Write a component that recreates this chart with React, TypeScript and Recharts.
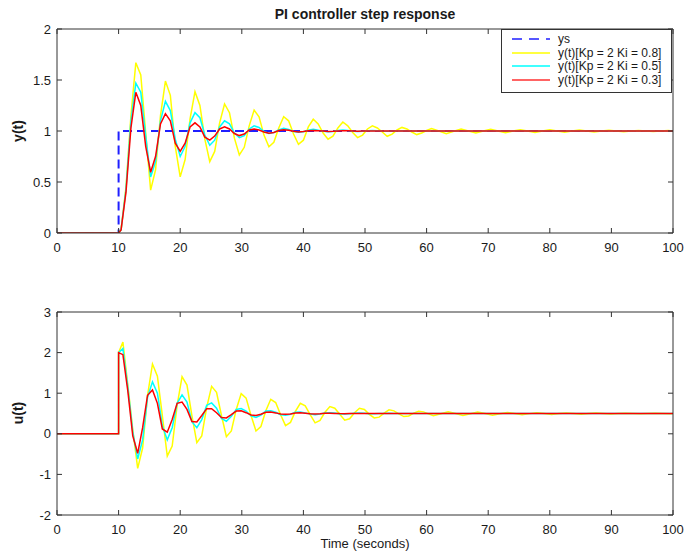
import { LineChart, Line, XAxis, YAxis } from "recharts";

// time grid for y(t) (s)
const tY = [
  0, 10, 10.4, 11.2, 12.0, 12.8, 13.6, 14.4, 15.2, 16.0,
  16.8, 17.6, 18.4, 19.2, 20.0, 20.8, 21.6, 22.4, 23.2, 24.0,
  24.8, 25.6, 26.4, 27.2, 28.0, 28.8, 29.6, 30.4, 31.2, 32.0,
  32.8, 33.6, 34.4, 35.2, 36.0, 36.8, 37.6, 38.4, 39.2, 40.0,
  40.8, 41.6, 42.4, 43.2, 44.0, 44.8, 45.6, 46.4, 47.2, 48.0,
  48.8, 49.6, 50.4, 51.2, 52.0, 52.8, 53.6, 54.4, 55.2, 56.0,
  56.8, 57.6, 58.4, 59.2, 60.0, 60.8, 62.0, 63.2, 64.4, 65.6,
  66.8, 68.0, 69.2, 70.4, 71.6, 72.8, 74.0, 75.2, 76.4, 77.6,
  78.8, 80.0, 81.2, 82.4, 83.6, 84.8, 86.0, 87.2, 88.4, 89.6,
  90.8, 92.0, 93.2, 94.4, 95.6, 96.8, 98.0, 99.2, 100,
];

// y(t), Kp = 2, Ki = 0.8
const yKi08 = [
  0, 0, 0.03, 0.45, 1.15, 1.67, 1.55, 0.98, 0.42, 0.62,
  1.15, 1.49, 1.35, 0.85, 0.55, 0.72, 1.12, 1.385, 1.25, 0.92,
  0.70, 0.80, 1.08, 1.265, 1.18, 0.93, 0.765, 0.84, 1.05, 1.205,
  1.14, 0.96, 0.845, 0.89, 1.03, 1.14, 1.10, 0.97, 0.87, 0.91,
  1.04, 1.115, 1.07, 0.98, 0.92, 0.95, 1.03, 1.088, 1.05, 0.985,
  0.935, 0.96, 1.02, 1.05, 1.03, 0.99, 0.948, 0.97, 1.01, 1.035,
  1.02, 0.99, 0.965, 0.98, 1.005, 1.023, 1.0, 0.974, 0.998, 1.02,
  1.0, 0.98, 0.999, 1.016, 1.0, 0.983, 1.0, 1.013, 1.0, 0.986,
  1.0, 1.011, 1.0, 0.989, 1.0, 1.009, 1.0, 0.991, 1.0, 1.007,
  1.0, 0.993, 1.0, 1.005, 1.0, 0.995, 1.0, 1.004, 1.0,
];

// y(t), Kp = 2, Ki = 0.5
const yKi05 = [
  0, 0, 0.03, 0.43, 1.10, 1.47, 1.38, 0.95, 0.55, 0.70,
  1.10, 1.29, 1.20, 0.92, 0.75, 0.85, 1.08, 1.18, 1.13, 0.96,
  0.86, 0.91, 1.04, 1.10, 1.07, 0.98, 0.935, 0.955, 1.02, 1.05,
  1.035, 0.995, 0.975, 0.985, 1.01, 1.026, 1.015, 0.995, 0.987, 0.993,
  1.008, 1.016, 1.008, 0.997, 0.993, 0.996, 1.005, 1.01, 1.005, 0.998,
  0.996, 0.998, 1.003, 1.005, 1.002, 0.999, 0.998, 0.999, 1.001, 1.002,
  1.001, 1, 1, 1, 1, 1, 1, 1, 1, 1,
  1, 1, 1, 1, 1, 1, 1, 1, 1, 1,
  1, 1, 1, 1, 1, 1, 1, 1, 1, 1,
  1, 1, 1, 1, 1, 1, 1, 1, 1,
];

// y(t), Kp = 2, Ki = 0.3
const yKi03 = [
  0, 0, 0.03, 0.40, 1.03, 1.38, 1.25, 0.85, 0.595, 0.75,
  1.07, 1.17, 1.10, 0.88, 0.80, 0.88, 1.04, 1.08, 1.04, 0.94,
  0.91, 0.95, 1.02, 1.04, 1.02, 0.975, 0.955, 0.97, 1.01, 1.02,
  1.01, 0.99, 0.978, 0.985, 1.005, 1.012, 1.008, 0.997, 0.99, 0.994,
  1.003, 1.006, 1.003, 0.999, 0.996, 0.997, 1.001, 1.003, 1.002, 1.0,
  0.998, 0.999, 1.001, 1.001, 1, 1, 1, 1, 1, 1,
  1, 1, 1, 1, 1, 1, 1, 1, 1, 1,
  1, 1, 1, 1, 1, 1, 1, 1, 1, 1,
  1, 1, 1, 1, 1, 1, 1, 1, 1, 1,
  1, 1, 1, 1, 1, 1, 1, 1, 1,
];

// setpoint ys
const tStep = [0, 10, 10, 100];
const ysVals = [0, 0, 1, 1];

// time grid for u(t) (s)
const tU = [
  0, 10, 10, 10.7, 11.5, 12.3, 13.1, 13.9, 14.7, 15.5,
  16.3, 17.1, 17.9, 18.7, 19.5, 20.3, 21.1, 21.9, 22.7, 23.5,
  24.3, 25.1, 25.9, 26.7, 27.5, 28.3, 29.1, 29.9, 30.7, 31.5,
  32.3, 33.1, 33.9, 34.7, 35.5, 36.3, 37.1, 37.9, 38.7, 39.5,
  40.3, 41.1, 41.9, 42.7, 43.5, 44.3, 45.1, 45.9, 46.7, 47.5,
  48.3, 49.1, 49.9, 50.7, 51.5, 52.3, 53.1, 53.9, 54.7, 55.5,
  56.3, 57.1, 57.9, 58.7, 59.5, 60.3, 61.1, 62.3, 63.5, 64.7,
  65.9, 67.1, 68.3, 69.5, 70.7, 71.9, 73.1, 74.3, 75.5, 76.7,
  77.9, 79.1, 80.3, 81.5, 82.7, 83.9, 85.1, 86.3, 87.5, 88.7,
  89.9, 91.1, 92.3, 93.5, 94.7, 95.9, 97.1, 98.3, 99.5, 100,
];

const uKi08 = [
  0, 0, 2.0, 2.26, 1.2, 0.1, -0.85, -0.35, 0.95, 1.72,
  1.42, 0.45, -0.55, -0.3, 0.7, 1.41, 1.2, 0.45, -0.22, -0.05,
  0.65, 1.17, 1.02, 0.45, -0.07, 0.07, 0.6, 0.99, 0.88, 0.45,
  0.07, 0.18, 0.57, 0.85, 0.77, 0.47, 0.20, 0.28, 0.55, 0.75,
  0.69, 0.47, 0.27, 0.33, 0.53, 0.67, 0.63, 0.48, 0.335, 0.37,
  0.52, 0.63, 0.60, 0.48, 0.39, 0.41, 0.51, 0.59, 0.565, 0.49,
  0.425, 0.44, 0.51, 0.555, 0.54, 0.49, 0.445, 0.495, 0.545, 0.50,
  0.45, 0.495, 0.535, 0.50, 0.46, 0.495, 0.525, 0.50, 0.468, 0.497,
  0.52, 0.50, 0.475, 0.498, 0.515, 0.50, 0.483, 0.499, 0.51, 0.50,
  0.49, 0.5, 0.507, 0.5, 0.493, 0.5, 0.505, 0.5, 0.496, 0.5,
];

const uKi05 = [
  0, 0, 2.0, 2.1, 1.15, 0.05, -0.62, -0.15, 0.9, 1.28,
  1.0, 0.2, -0.15, 0.15, 0.75, 0.96, 0.78, 0.3, 0.15, 0.35,
  0.7, 0.76, 0.63, 0.38, 0.31, 0.43, 0.6, 0.62, 0.56, 0.44,
  0.405, 0.46, 0.56, 0.57, 0.53, 0.47, 0.455, 0.48, 0.53, 0.535,
  0.515, 0.485, 0.472, 0.49, 0.515, 0.52, 0.51, 0.49, 0.486, 0.495,
  0.507, 0.51, 0.505, 0.496, 0.493, 0.498, 0.503, 0.505, 0.502, 0.498,
  0.497, 0.5, 0.5, 0.5, 0.5, 0.5, 0.5, 0.5, 0.5, 0.5,
  0.5, 0.5, 0.5, 0.5, 0.5, 0.5, 0.5, 0.5, 0.5, 0.5,
  0.5, 0.5, 0.5, 0.5, 0.5, 0.5, 0.5, 0.5, 0.5, 0.5,
  0.5, 0.5, 0.5, 0.5, 0.5, 0.5, 0.5, 0.5, 0.5, 0.5,
];

const uKi03 = [
  0, 0, 2.0, 1.95, 1.05, -0.05, -0.48, 0.15, 0.95, 1.08,
  0.75, 0.12, 0.04, 0.35, 0.75, 0.78, 0.6, 0.3, 0.29, 0.45,
  0.62, 0.62, 0.52, 0.4, 0.39, 0.47, 0.56, 0.565, 0.52, 0.465,
  0.452, 0.48, 0.53, 0.535, 0.515, 0.488, 0.48, 0.49, 0.512, 0.518,
  0.508, 0.494, 0.49, 0.496, 0.505, 0.507, 0.503, 0.497, 0.496, 0.499,
  0.502, 0.503, 0.501, 0.5, 0.5, 0.5, 0.5, 0.5, 0.5, 0.5,
  0.5, 0.5, 0.5, 0.5, 0.5, 0.5, 0.5, 0.5, 0.5, 0.5,
  0.5, 0.5, 0.5, 0.5, 0.5, 0.5, 0.5, 0.5, 0.5, 0.5,
  0.5, 0.5, 0.5, 0.5, 0.5, 0.5, 0.5, 0.5, 0.5, 0.5,
  0.5, 0.5, 0.5, 0.5, 0.5, 0.5, 0.5, 0.5, 0.5, 0.5,
];

const xTicks = [0, 10, 20, 30, 40, 50, 60, 70, 80, 90, 100];
const yTicksTop = [0, 0.5, 1, 1.5, 2];
const yTicksBottom = [-2, -1, 0, 1, 2, 3];

const legendItems = [
  { label: "ys", color: "#1f1fff", dash: "10 7" },
  { label: "y(t)[Kp = 2 Ki = 0.8]", color: "#ffff00" },
  { label: "y(t)[Kp = 2 Ki = 0.5]", color: "#00ffff" },
  { label: "y(t)[Kp = 2 Ki = 0.3]", color: "#ff3030" },
];

const FONT = '"Liberation Sans", Arial, Helvetica, sans-serif';
const AXIS = "#333333";
const TEXT = "#1a1a1a";
const YELLOW = "#ffff00";
const CYAN = "#00ffff";
const RED = "#ff0000";
const TICK_LEN = 5;

const yRows = tY.map((t, i) => ({ t, y08: yKi08[i], y05: yKi05[i], y03: yKi03[i] }));
const uRows = tU.map((t, i) => ({ t, u08: uKi08[i], u05: uKi05[i], u03: uKi03[i] }));
const stepRows = tStep.map((t, i) => ({ t, ys: ysVals[i] }));

// tick renderers draw the inward tick mark themselves (tickSize is 0)
function BottomTick({ x, y, payload }: any) {
  const axisY = y - 9;
  return (
    <g>
      <line x1={x} y1={axisY} x2={x} y2={axisY - TICK_LEN} stroke={AXIS} />
      <text x={x} y={y} dy="0.75em" textAnchor="middle" fontSize={13} fill={TEXT} fontFamily={FONT}>
        {payload.value}
      </text>
    </g>
  );
}

function LeftTick({ x, y, payload }: any) {
  const axisX = x + 6;
  return (
    <g>
      <line x1={axisX} y1={y} x2={axisX + TICK_LEN} y2={y} stroke={AXIS} />
      <text x={x} y={y} dy="0.36em" textAnchor="end" fontSize={13} fill={TEXT} fontFamily={FONT}>
        {payload.value}
      </text>
    </g>
  );
}

function TopTick({ x, y }: any) {
  return <line x1={x} y1={y} x2={x} y2={y + TICK_LEN} stroke={AXIS} />;
}

function RightTick({ x, y }: any) {
  return <line x1={x} y1={y} x2={x - TICK_LEN} y2={y} stroke={AXIS} />;
}

// Matlab-like box: inward ticks on all four sides, labels on bottom/left only
function Frame({ domain, ticks }: { domain: number[]; ticks: number[] }) {
  return [
    <XAxis
      key="xb" dataKey="t" type="number" domain={[0, 100]} ticks={xTicks} interval={0}
      allowDataOverflow height={22} stroke={AXIS} tickLine={false} tickSize={0} tickMargin={9}
      tick={<BottomTick />}
    />,
    <XAxis
      key="xt" xAxisId="top" orientation="top" dataKey="t" type="number" domain={[0, 100]}
      ticks={xTicks} interval={0} allowDataOverflow height={1} stroke={AXIS}
      tickLine={false} tickSize={0} tickMargin={0} tick={<TopTick />}
    />,
    <YAxis
      key="yl" type="number" domain={domain} ticks={ticks} interval={0} allowDataOverflow
      width={57} stroke={AXIS} tickLine={false} tickSize={0} tickMargin={6} tick={<LeftTick />}
    />,
    <YAxis
      key="yr" yAxisId="right" orientation="right" type="number" domain={domain} ticks={ticks}
      interval={0} allowDataOverflow width={1} stroke={AXIS} tickLine={false} tickSize={0}
      tickMargin={0} tick={<RightTick />}
    />,
  ];
}

function Legend() {
  return (
    <div
      style={{
        position: "absolute", left: 501, top: 29, width: 169, height: 62,
        border: `1px solid ${AXIS}`, background: "#fff", fontSize: 12, color: TEXT,
      }}
    >
      {legendItems.map((it, i) => (
        <div
          key={it.label}
          style={{ position: "absolute", left: 0, top: 2 + i * 13.6, height: 14, display: "flex", alignItems: "center" }}
        >
          <svg width={56} height={14}>
            <line x1={10} y1={7} x2={48} y2={7} stroke={it.color} strokeWidth={1.3} strokeDasharray={it.dash} />
          </svg>
          <span style={{ lineHeight: "14px" }}>{it.label}</span>
        </div>
      ))}
    </div>
  );
}

function AxisTitle({ text, x, y }: { text: string; x: number; y: number }) {
  return (
    <div
      style={{
        position: "absolute", left: x, top: y, transform: "translate(-50%, -50%) rotate(-90deg)",
        fontWeight: "bold", fontSize: 14, color: TEXT, whiteSpace: "nowrap",
      }}
    >
      {text}
    </div>
  );
}

export default function App() {
  return (
    <div
      style={{
        position: "absolute", left: 0, top: 0, width: 684, height: 551,
        background: "#fff", fontFamily: FONT, overflow: "hidden",
      }}
    >
      <div
        style={{
          position: "absolute", left: 57, width: 616, top: 6, textAlign: "center",
          fontWeight: "bold", fontSize: 14, color: TEXT,
        }}
      >
        PI controller step response
      </div>

      <div style={{ position: "absolute", left: 0, top: 0 }}>
        <LineChart width={684} height={260} data={yRows} margin={{ top: 28, right: 10, left: 0, bottom: 5 }}>
          {Frame({ domain: [0, 2], ticks: yTicksTop })}
          <Line data={stepRows} dataKey="ys" type="linear" stroke="#1f1fff" strokeWidth={2}
            strokeDasharray="9 5" dot={false} isAnimationActive={false} />
          <Line dataKey="y08" type="linear" stroke={YELLOW} strokeWidth={1.5} dot={false} isAnimationActive={false} />
          <Line dataKey="y05" type="linear" stroke={CYAN} strokeWidth={1.5} dot={false} isAnimationActive={false} />
          <Line dataKey="y03" type="linear" stroke={RED} strokeWidth={1.5} dot={false} isAnimationActive={false} />
        </LineChart>
      </div>
      <Legend />
      <AxisTitle text="y(t)" x={18} y={131} />

      <div style={{ position: "absolute", left: 0, top: 280 }}>
        <LineChart width={684} height={260} data={uRows} margin={{ top: 31, right: 10, left: 0, bottom: 3 }}>
          {Frame({ domain: [-2, 3], ticks: yTicksBottom })}
          <Line dataKey="u08" type="linear" stroke={YELLOW} strokeWidth={1.5} dot={false} isAnimationActive={false} />
          <Line dataKey="u05" type="linear" stroke={CYAN} strokeWidth={1.5} dot={false} isAnimationActive={false} />
          <Line dataKey="u03" type="linear" stroke={RED} strokeWidth={1.5} dot={false} isAnimationActive={false} />
        </LineChart>
      </div>
      <AxisTitle text="u(t)" x={18} y={413} />

      <div
        style={{
          position: "absolute", left: 57, width: 616, top: 536, textAlign: "center",
          fontSize: 13, color: TEXT,
        }}
      >
        Time (seconds)
      </div>
    </div>
  );
}
